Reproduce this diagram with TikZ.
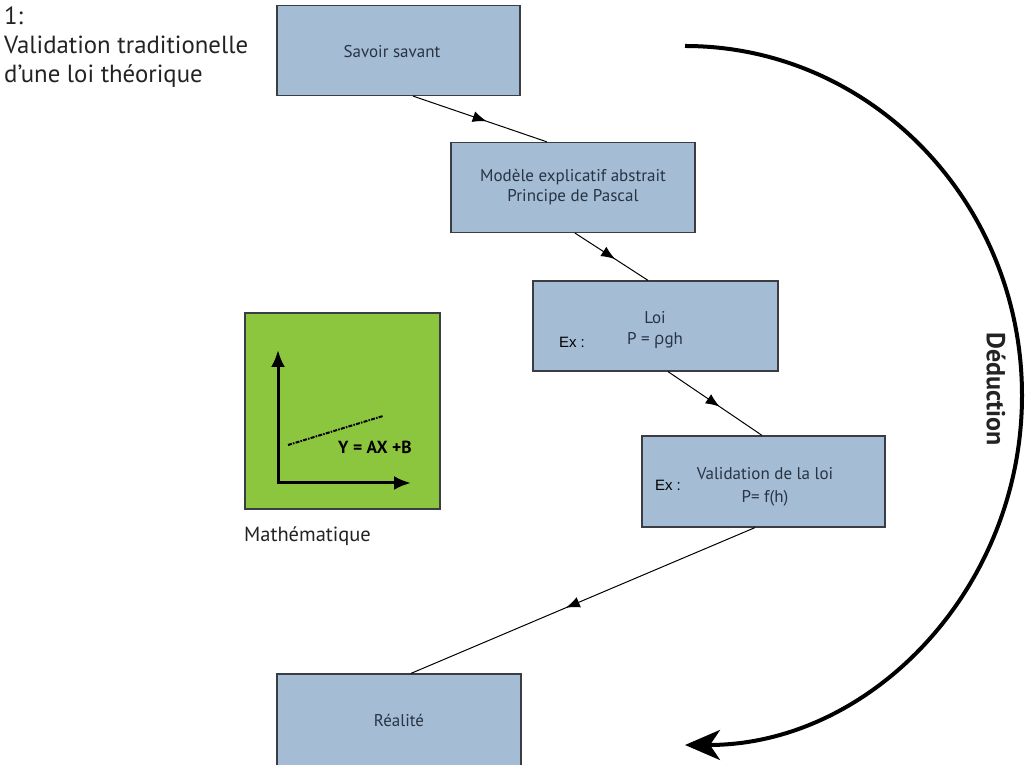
\documentclass[tikz,border=0pt]{standalone}
\usepackage{fontspec}
\setmainfont{PT Sans}
\newfontfamily\arialfont{Liberation Sans}
\newfontfamily\greekfont{Open Sans}
\usetikzlibrary{arrows.meta,calc,decorations.markings}

\definecolor{boxblue}{RGB}{164,188,212}
\definecolor{boxedge}{RGB}{58,62,68}
\definecolor{boxtext}{RGB}{40,52,68}
\definecolor{mathgreen}{RGB}{140,198,63}
\definecolor{labeltext}{RGB}{35,35,35}

\tikzset{
  stepbox/.style={draw=boxedge, line width=1.2pt, fill=boxblue,
    minimum width=243pt, minimum height=90pt, inner sep=0pt,
    text=boxtext, font=\fontsize{17}{20}\selectfont, align=center},
  boxtxt/.style={text=boxtext, font=\fontsize{17}{21}\selectfont, align=center, inner sep=0pt},
  extxt/.style={text=black, font=\arialfont\fontsize{15}{17}\selectfont, inner sep=0pt},
  flow/.style={line width=1pt, postaction=decorate,
    decoration={markings, mark=at position 0.55 with {\arrow{Latex[length=14pt,width=11pt]}}}},
  axis/.style={line width=3pt, {Latex[length=17pt,width=14pt]}-{Latex[length=17pt,width=14pt]}},
  deduc/.style={line width=4pt, -{Stealth[length=35pt,width=30pt,inset=10pt]}},
}

\begin{document}
\begin{tikzpicture}[x=1pt,y=1pt]
\useasboundingbox (0,0) rectangle (1026,765);
\fill[white] (0,0) rectangle (1026,765);

% caption at top left
\node[anchor=north west, align=left, text=labeltext, inner sep=0pt,
      font=\fontsize{24.8}{29}\selectfont] (titre) at (4,758)
  {1:\\Validation traditionelle\\d’une loi théorique};

% chain of steps
\node[stepbox] (savoir) at (398.5,714.5) {};
\node[boxtxt] (savoirtxt) at (392,713) {Savoir savant};
\node[stepbox, minimum width=244pt] (modele) at (573,577.5)
  {Modèle explicatif abstrait\\Principe de Pascal};
\node[stepbox, minimum width=245pt] (loi) at (655.5,439) {};
\node[boxtxt] (loitxt) at (655,435) {Loi\\P = {\greekfont ρ}gh};
\node[extxt] (loiex) at (572,423) {Ex :};
\node[stepbox, minimum height=91pt] (valid) at (763.5,283.5) {};
\node[boxtxt, font=\fontsize{17}{23}\selectfont] (validtxt) at (765,278) {Validation de la loi\\P= f(h)};
\node[extxt] (validex) at (668,280) {Ex :};
\node[stepbox, minimum width=244pt, minimum height=93pt] (realite) at (399,44.5) {Réalité};

% connectors between the steps
\draw[flow] ([xshift=14.5pt]savoir.south) -- ([xshift=-26pt]modele.north);
\draw[flow] ([xshift=2pt]modele.south) -- ([xshift=-7.5pt]loi.north);
\draw[flow] ([xshift=12.5pt]loi.south) -- ([xshift=-1.5pt]valid.north);
\draw[flow] ([xshift=-8.5pt]valid.south) -- ([xshift=12pt]realite.north);

% mathematics panel
\node[draw=boxedge, line width=1.2pt, fill=mathgreen, minimum width=195pt,
      minimum height=196pt, inner sep=0pt] (math) at (342.5,354) {};
\coordinate (axtop) at (278,415);
\coordinate (axorig) at (278,282);
\coordinate (axright) at (411,282);
\draw[axis] (axtop) -- (axorig) -- (axright);
\coordinate (droiteA) at (288,320);
\coordinate (droiteB) at (383,349);
\draw[line width=2pt, dash pattern=on 4pt off 1.2pt on 1.5pt off 1.2pt] (droiteA) -- (droiteB);
\node[inner sep=0pt, font=\bfseries\fontsize{17.5}{19}\selectfont] (eq) at (375,318) {Y = AX +B};
\node[anchor=west, inner sep=0pt, text=labeltext, font=\fontsize{20.5}{22}\selectfont]
  (mathlbl) at (244,229) {Mathématique};

% deduction arc
\coordinate (dedstart) at (685,719);
\draw[deduc] (dedstart) arc[start angle=90, end angle=-90, x radius=337, y radius=349.5];
\node[rotate=-90, inner sep=0pt, text=labeltext, font=\bfseries\fontsize{26}{28}\selectfont]
  (deduction) at (996,376) {Déduction};
\end{tikzpicture}
\end{document}
